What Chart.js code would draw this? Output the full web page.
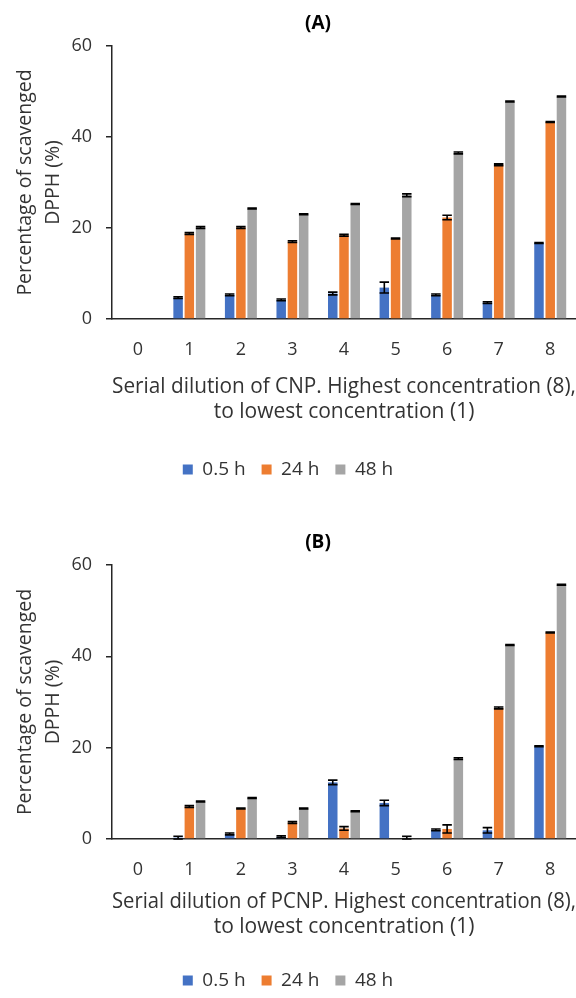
<!DOCTYPE html>
<html>
<head>
<meta charset="utf-8">
<script src="https://cdn.jsdelivr.net/npm/chart.js@4.4.0/dist/chart.umd.min.js"></script>
<style>
  html, body { margin: 0; padding: 0; background: #fff; overflow: hidden; }
  .panel { position: relative; width: 576px; }
  canvas { display: block; }
</style>
</head>
<body>
<div class="panel"><canvas id="chart-a" width="576" height="519"></canvas></div>
<div class="panel"><canvas id="chart-b" width="576" height="481"></canvas></div>
<script>
/* DPPH scavenging — two grouped bar panels with error bars */

const categories = ['0', '1', '2', '3', '4', '5', '6', '7', '8'];
const seriesNames = ['0.5 h', '24 h', '48 h'];
const seriesColors = ['#4472C4', '#ED7D31', '#A5A5A5'];
const yTicks = [0, 20, 40, 60];

// Panel A (CNP)
const cnpHalfHour = [0, 4.7, 5.3, 4.2, 5.6, 6.9, 5.3, 3.6, 16.7];
const cnpDay = [0, 18.8, 20.1, 17.0, 18.4, 17.7, 22.3, 33.9, 43.3];
const cnpTwoDays = [0, 20.1, 24.3, 23.0, 25.3, 27.2, 36.5, 47.8, 48.9];
const cnpHalfHourErr = [0, 0.2, 0.2, 0.2, 0.3, 1.2, 0.2, 0.2, 0.1];
const cnpDayErr = [0, 0.2, 0.2, 0.2, 0.2, 0.1, 0.5, 0.2, 0.1];
const cnpTwoDaysErr = [0, 0.2, 0.1, 0.1, 0.1, 0.3, 0.2, 0.1, 0.1];

// Panel B (PCNP)
const pcnpHalfHour = [0, 0.3, 1.1, 0.5, 12.4, 7.9, 2.0, 1.9, 20.3];
const pcnpDay = [0, 7.1, 6.7, 3.6, 2.3, 0, 2.2, 28.7, 45.2];
const pcnpTwoDays = [0, 8.2, 9.0, 6.7, 6.1, 0.3, 17.6, 42.5, 55.7];
const pcnpHalfHourErr = [0, 0.3, 0.2, 0.2, 0.5, 0.6, 0.2, 0.6, 0.1];
const pcnpDayErr = [0, 0.2, 0.1, 0.2, 0.4, 0, 0.9, 0.2, 0.1];
const pcnpTwoDaysErr = [0, 0.1, 0.1, 0.1, 0.1, 0.3, 0.2, 0.1, 0.1];

const FONT = 'Open Sans';
const TEXT = '#333333';
const AXIS = '#262626';

const errorBars = {
    id: 'errorBars',
    afterDatasetsDraw(chart) {
        const { ctx, scales: { y } } = chart;
        ctx.save();
        ctx.strokeStyle = '#000';
        ctx.lineWidth = 1.6;
        chart.data.datasets.forEach((ds, i) => {
            const meta = chart.getDatasetMeta(i);
            meta.data.forEach((bar, j) => {
                const v = ds.data[j];
                const e = ds.errors[j];
                if (!v && !e) return;
                const half = bar.width / 2;
                const yTop = y.getPixelForValue(v + e);
                const yBot = y.getPixelForValue(Math.max(0, v - e));
                ctx.beginPath();
                ctx.moveTo(bar.x, yTop);
                ctx.lineTo(bar.x, yBot);
                ctx.moveTo(bar.x - half, yTop);
                ctx.lineTo(bar.x + half, yTop);
                ctx.moveTo(bar.x - half, yBot);
                ctx.lineTo(bar.x + half, yBot);
                ctx.stroke();
            });
        });
        ctx.restore();
    }
};

const panelTitle = {
    id: 'panelTitle',
    afterDraw(chart, args, opts) {
        const { ctx } = chart;
        ctx.save();
        ctx.font = `bold 19px "${FONT}"`;
        ctx.fillStyle = '#000';
        ctx.textAlign = 'center';
        ctx.textBaseline = 'middle';
        ctx.fillText(opts.text, opts.x, opts.y);
        ctx.restore();
    }
};

function createPanel(id, cfg) {
    const ctx = document.getElementById(id).getContext('2d');
    const values = [cfg.half, cfg.day, cfg.two];
    const errs = [cfg.halfErr, cfg.dayErr, cfg.twoErr];

    return new Chart(ctx, {
        type: 'bar',
        data: {
            labels: categories,
            datasets: seriesNames.map((name, i) => ({
                label: name,
                data: values[i],
                errors: errs[i],
                backgroundColor: seriesColors[i],
                borderWidth: 0,
                categoryPercentage: 0.654,
                barPercentage: 0.844
            }))
        },
        options: {
            responsive: false,
            animation: false,
            layout: { padding: { top: 46, left: 0, right: 0, bottom: cfg.padBottom } },
            plugins: {
                legend: {
                    position: 'bottom',
                    labels: {
                        boxWidth: 10,
                        boxHeight: 10,
                        padding: 16,
                        color: TEXT,
                        font: { family: FONT, size: 19 }
                    }
                },
                tooltip: { enabled: false },
                panelTitle: { text: cfg.title, x: 318, y: 24 }
            },
            scales: {
                x: {
                    afterFit(scale) { scale.height = cfg.xHeight; },
                    grid: { display: false },
                    border: { display: true, color: AXIS, width: 1.5 },
                    ticks: {
                        padding: 12,
                        color: TEXT,
                        font: { family: FONT, size: 18 }
                    },
                    title: {
                        display: true,
                        text: cfg.xTitle,
                        color: TEXT,
                        padding: { top: 0, bottom: cfg.xTitlePad },
                        font: { family: FONT, size: 21, lineHeight: 25 / 21 }
                    }
                },
                y: {
                    min: 0,
                    max: 60,
                    afterFit(scale) { scale.width = 112; },
                    afterBuildTicks(scale) {
                        scale.ticks = yTicks.map(v => ({ value: v }));
                    },
                    grid: {
                        display: true,
                        drawOnChartArea: false,
                        drawTicks: true,
                        tickLength: 6,
                        color: AXIS,
                        lineWidth: 1.5
                    },
                    border: { display: true, color: AXIS, width: 1.5 },
                    ticks: {
                        padding: 14,
                        color: TEXT,
                        font: { family: FONT, size: 18 }
                    },
                    title: {
                        display: true,
                        text: ['Percentage of scavenged', 'DPPH (%)'],
                        color: TEXT,
                        padding: { top: 11, bottom: 0 },
                        font: { family: FONT, size: 19.5, lineHeight: 28 / 19.5 }
                    }
                }
            }
        },
        plugins: [errorBars, panelTitle]
    });
}

createPanel('chart-a', {
    title: '(A)',
    half: cnpHalfHour, day: cnpDay, two: cnpTwoDays,
    halfErr: cnpHalfHourErr, dayErr: cnpDayErr, twoErr: cnpTwoDaysErr,
    xTitle: ['Serial dilution of CNP. Highest concentration (8),', 'to lowest concentration (1)'],
    xHeight: 125, xTitlePad: 19.5, padBottom: 30
});

createPanel('chart-b', {
    title: '(B)',
    half: pcnpHalfHour, day: pcnpDay, two: pcnpTwoDays,
    halfErr: pcnpHalfHourErr, dayErr: pcnpDayErr, twoErr: pcnpTwoDaysErr,
    xTitle: ['Serial dilution of PCNP. Highest concentration (8),', 'to lowest concentration (1)'],
    xHeight: 116, xTitlePad: 15, padBottom: 0
});
</script>
</body>
</html>
